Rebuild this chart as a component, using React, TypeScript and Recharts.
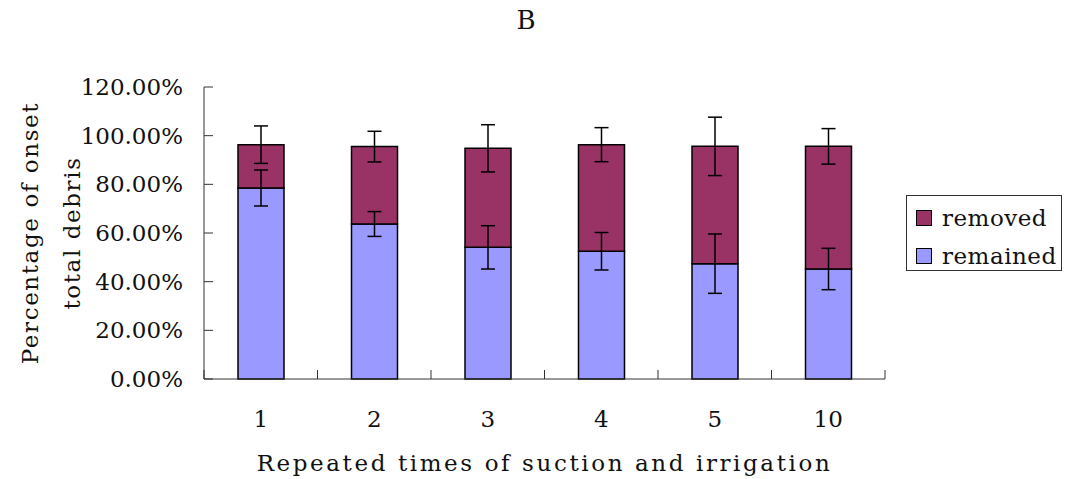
import {
  BarChart,
  Bar,
  XAxis,
  YAxis,
  ErrorBar,
  Legend
} from "recharts"

const categories = ["1", "2", "3", "4", "5", "10"]
const remained = [78.5, 63.7, 54.1, 52.5, 47.4, 45.2]
const removed = [17.8, 31.8, 40.7, 43.8, 48.2, 50.4]
const remainedErr = [7.4, 5.1, 8.9, 7.7, 12.2, 8.5]
const removedErr = [7.7, 6.3, 9.7, 7.0, 12.0, 7.3]
const yTicks = [0, 20, 40, 60, 80, 100, 120]

const REMAINED = "#9999ff"
const REMOVED = "#993366"
const FONT = "'DejaVu Serif', serif"
const W = 1067
const H = 479
const LEFT = 204
const RIGHT = 182

const data = categories.map((c, i) => ({
  name: c,
  remained: remained[i],
  removed: removed[i],
  remainedErr: remainedErr[i],
  removedErr: removedErr[i]
}))

const textStyle = { fontFamily: FONT, fontSize: 23, fill: "#111" }

function XTick(props: any) {
  const { x, y, payload, index } = props
  const half = payload?.offset ?? (W - LEFT - RIGHT) / categories.length / 2
  return (
    <g>
      <line x1={x - half} x2={x - half} y1={y} y2={y - 9} stroke="#333" />
      {index === categories.length - 1 && (
        <line x1={x + half} x2={x + half} y1={y} y2={y - 9} stroke="#333" />
      )}
      <text x={x} y={y + 48} textAnchor="middle" style={textStyle}>
        {payload.value}
      </text>
    </g>
  )
}

function YTick(props: any) {
  const { x, y, payload } = props
  return (
    <g>
      <line x1={x} x2={x + 9} y1={y} y2={y} stroke="#333" />
      <text x={x - 21} y={y + 8} textAnchor="end" style={textStyle}>
        {payload.value.toFixed(2) + "%"}
      </text>
    </g>
  )
}

function YLabel(props: any) {
  const vb = props.viewBox
  const cy = vb.y + vb.height / 2
  const x1 = vb.x + 30
  const x2 = vb.x + 72
  const st = { ...textStyle, letterSpacing: 1.6 }
  return (
    <g>
      <text x={x1} y={cy} textAnchor="middle" dominantBaseline="central"
        transform={`rotate(-90 ${x1} ${cy})`} style={st}>
        Percentage of onset
      </text>
      <text x={x2} y={cy} textAnchor="middle" dominantBaseline="central"
        transform={`rotate(-90 ${x2} ${cy})`} style={st}>
        total debris
      </text>
    </g>
  )
}

function LegendBox(props: any) {
  const items = [...(props.payload ?? [])].reverse()
  return (
    <div style={{
      border: "1px solid #333", width: 154, height: 74, boxSizing: "content-box",
      display: "flex", flexDirection: "column", justifyContent: "center", gap: 8,
      paddingTop: 0, background: "#fff"
    }}>
      {items.map((it: any) => (
        <div key={it.value} style={{ display: "flex", alignItems: "center", height: 30, position: "relative", top: 4 }}>
          <span style={{
            display: "inline-block", width: 14, height: 14, marginLeft: 9, marginRight: 10,
            background: it.color, border: "1.5px solid #000"
          }} />
          <span style={{ fontFamily: FONT, fontSize: 23, color: "#111", letterSpacing: 0.5 }}>
            {it.value}
          </span>
        </div>
      ))}
    </div>
  )
}

export default function App() {
  return (
    <div style={{ position: "absolute", left: 0, top: 0, width: W, height: H, background: "#fff" }}>
      <div style={{
        position: "absolute", left: 526, top: 5, transform: "translateX(-50%)",
        fontFamily: FONT, fontSize: 26, color: "#111"
      }}>B</div>
      <BarChart width={W} height={H} data={data} barSize={46}
        margin={{ top: 87, right: RIGHT, bottom: 0, left: 0 }}>
        <XAxis dataKey="name" height={100} stroke="#333" tickLine={false}
          tickSize={0} tickMargin={0} tick={<XTick />} interval={0}
          label={{ value: "Repeated times of suction and irrigation", position: "insideBottom", offset: 8, style: { ...textStyle, letterSpacing: 2.6 } }} />
        <YAxis width={LEFT} domain={[0, 120]} ticks={yTicks} stroke="#333"
          tickLine={false} tickSize={0} tickMargin={0} tick={<YTick />}
          label={<YLabel />} />
        <Legend layout="vertical" align="center" verticalAlign="middle"
          wrapperStyle={{ position: "absolute", left: 906, top: 195, width: 156 }}
          content={<LegendBox />} />
        <Bar dataKey="remained" name="remained" stackId="a" fill={REMAINED}
          stroke="#000" strokeWidth={1.5} isAnimationActive={false}>
          <ErrorBar dataKey="remainedErr" width={7} stroke="#000" strokeWidth={1.5} direction="y" />
        </Bar>
        <Bar dataKey="removed" name="removed" stackId="a" fill={REMOVED}
          stroke="#000" strokeWidth={1.5} isAnimationActive={false}>
          <ErrorBar dataKey="removedErr" width={7} stroke="#000" strokeWidth={1.5} direction="y" />
        </Bar>
      </BarChart>
    </div>
  )
}
